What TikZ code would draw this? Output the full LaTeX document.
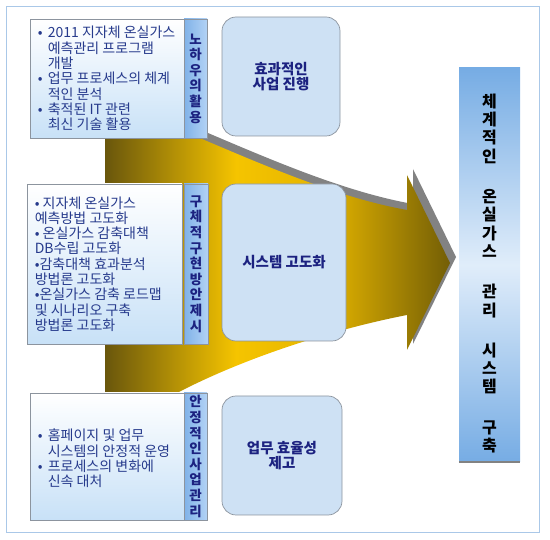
\documentclass[tikz,border=0pt]{standalone}
\usepackage{fontspec}
\setmainfont{Noto Sans CJK KR}

\definecolor{framebl}{RGB}{170,200,232}
\definecolor{navytxt}{RGB}{28,34,128}
\definecolor{boxtxt}{RGB}{38,58,140}
\definecolor{stripbl}{RGB}{128,178,232}
\definecolor{stripli}{RGB}{178,210,245}
\definecolor{roundbl}{RGB}{206,225,244}
\definecolor{edgegray}{RGB}{140,148,158}
\definecolor{boxfill}{RGB}{200,225,247}
\definecolor{shadowgray}{RGB}{130,130,130}
\definecolor{golddark}{RGB}{105,86,12}
\definecolor{goldbright}{RGB}{245,196,0}
\definecolor{goldmid}{RGB}{228,180,0}
\definecolor{golddarktip}{RGB}{115,94,6}
\definecolor{sidebl}{RGB}{118,172,228}
\definecolor{sideli}{RGB}{224,237,250}

\pgfdeclarehorizontalshading{funnelshade}{100bp}{color(0bp)=(golddark); color(25bp)=(golddark); color(44bp)=(goldbright); color(57bp)=(goldmid); color(75bp)=(golddarktip); color(100bp)=(golddarktip)}

\newcommand{\bitem}{\makebox[10pt][l]{•}}
\newcommand{\bskip}{\hspace*{10pt}}

\tikzset{
  txtbox/.style={draw=edgegray, line width=0.7pt, top color=white, bottom color=boxfill, inner sep=0pt},
  stripbox/.style={draw=edgegray, line width=0.7pt, left color=stripbl, right color=stripli, inner sep=0pt,
    text=navytxt, font=\fontsize{13.5}{15.6}\selectfont\bfseries, align=center},
  roundbox/.style={draw=edgegray, line width=0.7pt, fill=roundbl, rounded corners=14pt, inner sep=0pt,
    text=navytxt, font=\fontsize{14.5}{15}\selectfont\bfseries, align=center},
  listtxt/.style={anchor=west, inner sep=0pt, text=boxtxt, align=left, font=\fontsize{14}{15.3}\selectfont}
}

\begin{document}
\begin{tikzpicture}[x=1pt, y=-1pt]
    \useasboundingbox (0,0) rectangle (550,540);

    % Outer frame
    \draw[framebl, line width=0.9pt] (6,6) rectangle (539,532);

    % Gold arrow with its shadow
    \shade[shading=funnelshade, preaction={fill=shadowgray, transform canvas={shift={(6pt,6pt)}}}]
      (105,136) -- (195,136) .. controls (270,168) and (340,198) .. (407,210)
      -- (407,175) -- (450,263) -- (407,350) -- (407,315)
      .. controls (340,328) and (250,355) .. (177,393) -- (105,393) -- cycle;

    % Left boxes with their labels
    \node[txtbox, minimum width=154pt, minimum height=119pt] (know) at (107,78.5) {};
    \node[stripbox, minimum width=23pt, minimum height=119pt] (knowlbl) at (195.5,78.5) {노\\하\\우\\의\\활\\용};
    \node[listtxt] (knowtxt) at ([xshift=8pt]know.west)
      {\bitem 2011 지자체 온실가스\\ \bskip 예측관리 프로그램\\ \bskip 개발\\
       \bitem 업무 프로세스의 체계\\ \bskip 적인 분석\\ \bitem 축적된 IT 관련\\ \bskip 최신 기술 활용};

    \node[txtbox, minimum width=155pt, minimum height=160pt] (plan) at (104.5,264) {};
    \node[stripbox, minimum width=24pt, minimum height=160pt] (planlbl) at (196,264) {구\\체\\적\\구\\현\\방\\안\\제\\시};
    \node[listtxt] (plantxt) at ([xshift=8pt]plan.west)
      {• 지자체 온실가스\\ 예측방법 고도화\\ • 온실가스 감축대책\\ DB수립 고도화\\
       •감축대책 효과분석\\ 방법론 고도화\\ •온실가스 감축 로드맵\\ 및 시나리오 구축\\ 방법론 고도화};

    \node[txtbox, minimum width=154pt, minimum height=127pt] (stable) at (107,456.5) {};
    \node[stripbox, minimum width=23pt, minimum height=127pt] (stablelbl) at (195.5,456.5) {안\\정\\적\\인\\사\\업\\관\\리};
    \node[listtxt] (stabletxt) at ([xshift=8pt,yshift=-2pt]stable.west)
      {\bitem 홈페이지 및 업무\\ \bskip 시스템의 안정적 운영\\ \bitem 프로세스의 변화에\\ \bskip 신속 대처};

    % Result boxes
    \node[roundbox, minimum width=118pt, minimum height=119pt] (effect) at (281,76.5) {효과적인\\사업 진행};
    \node[roundbox, minimum width=124pt, minimum height=157pt] (system) at (284,262.5) {시스템 고도화};
    \node[roundbox, minimum width=120pt, minimum height=119pt] (work) at (282,455.5) {업무 효율성\\제고};

    % Goal column
    \node[top color=sidebl, bottom color=sidebl, middle color=sideli, minimum width=61pt, minimum height=394pt,
      inner sep=0pt] (goal) at (489.5,265) {};
    \draw[shadowgray, line width=2pt] (goal.south west) -- (goal.south east);
    \node[font=\fontsize{16}{18.3}\selectfont\bfseries, align=center, inner sep=0pt] (goaltxt) at (489.5,273.5)
      {체\\계\\적\\인\\[22pt]온\\실\\가\\스\\[22pt]관\\리\\[22pt]시\\스\\템\\[22pt]구\\축};
\end{tikzpicture}
\end{document}
